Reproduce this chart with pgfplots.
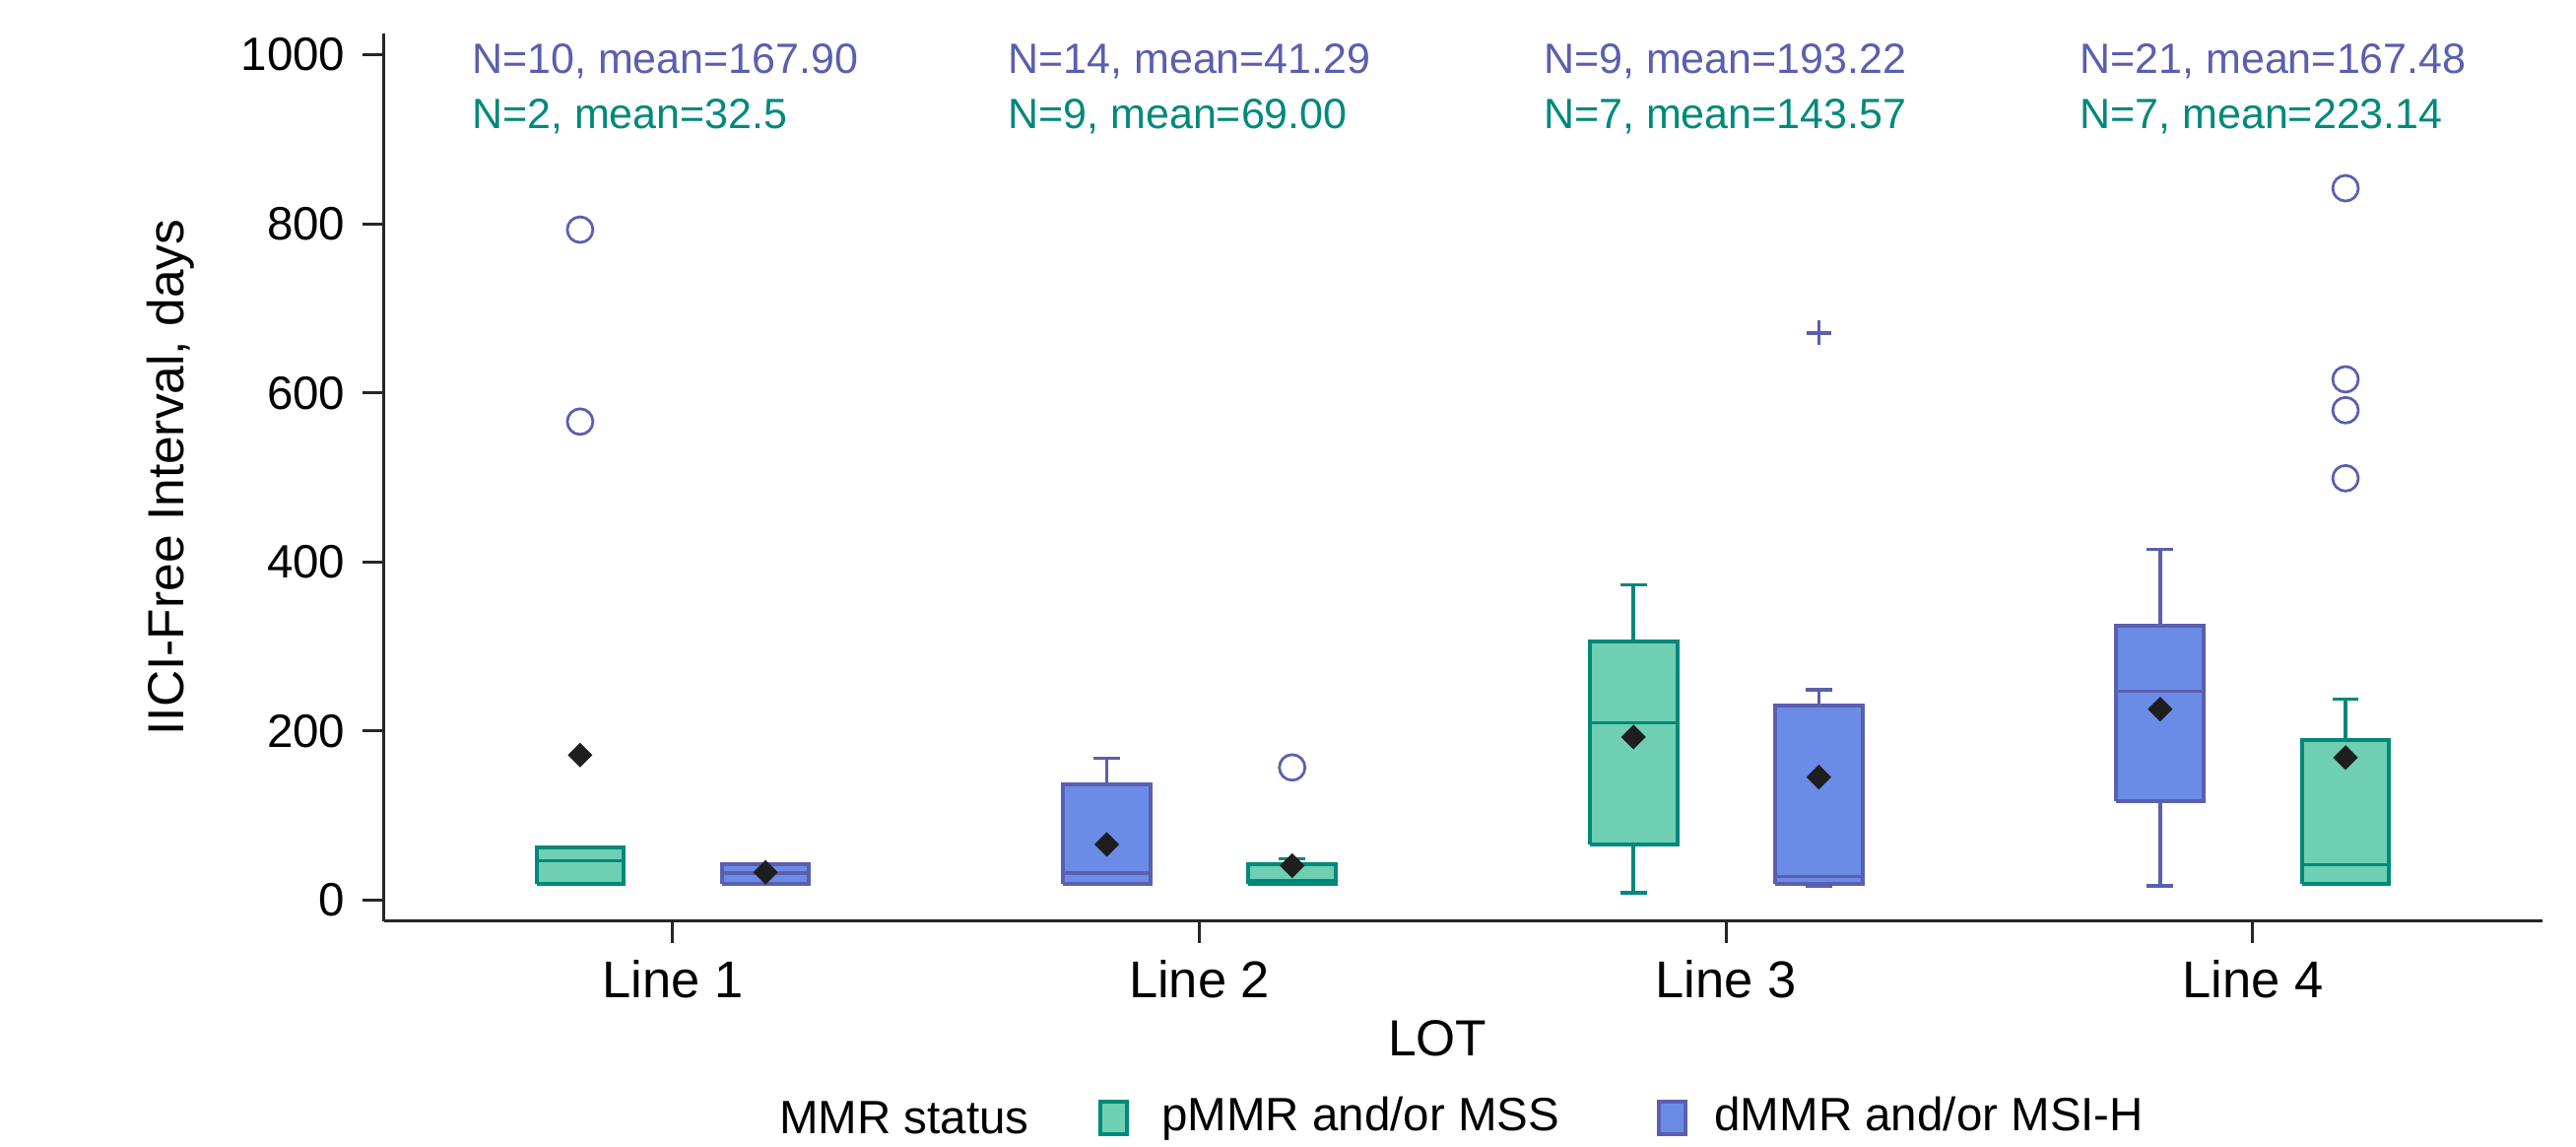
\documentclass[border=0pt]{standalone}
\usepackage{fontspec}
\setmainfont{Liberation Sans}
\usepackage{pgfplots}
\pgfplotsset{compat=1.18}
\definecolor{gfill}{HTML}{6FCFB3}
\definecolor{gedge}{HTML}{00897B}
\definecolor{bfill}{HTML}{6A8CE6}
\definecolor{bedge}{HTML}{5A5FAF}
\definecolor{axc}{HTML}{262626}
\definecolor{dk}{HTML}{1E1E1E}
\pgfplotsset{sqlegend/.style={legend image code/.code={\draw[##1] (0pt,-3.3pt) rectangle (5.4pt,3.3pt);}}}
\pgfdeclareplotmark{wdiamond}{%
  \pgfpathmoveto{\pgfqpoint{0pt}{\pgfplotmarksize}}%
  \pgfpathlineto{\pgfqpoint{\pgfplotmarksize}{0pt}}%
  \pgfpathlineto{\pgfqpoint{0pt}{-\pgfplotmarksize}}%
  \pgfpathlineto{\pgfqpoint{-\pgfplotmarksize}{0pt}}%
  \pgfpathclose\pgfusepathqfillstroke}
\begin{document}
\begin{tikzpicture}
\begin{axis}[
  at={(0,0)}, anchor=south west,
  scale only axis, width=438.2pt, height=180.2pt,
  xmin=0.452, xmax=4.55, ymin=-25, ymax=1025,
  axis x line*=bottom, axis y line*=left,
  axis line style={axc, line width=0.6pt},
  xtick={1,2,3,4}, xticklabels={Line 1,Line 2,Line 3,Line 4},
  ytick={0,200,400,600,800,1000},
  tick align=outside, major tick length=4.4pt,
  tick style={axc, line width=0.6pt},
  /pgf/number format/assume math mode=true,
  /pgf/number format/set thousands separator={},
  yticklabel style={font=\fontsize{9.5}{11}\selectfont},
  xticklabel style={font=\fontsize{10.5}{12}\selectfont},
  label style={font=\fontsize{10.3}{12}\selectfont},
  xlabel={LOT}, ylabel={IICI-Free Interval, days},
  xlabel style={at={(axis description cs:0.488,-0.132)}, anchor=center},
  ylabel style={at={(axis description cs:-0.099,0.5)}, anchor=center},
  clip=false,
  legend columns=-1,
  legend style={draw=none, fill=none, at={(axis description cs:0.3237,-0.221)}, anchor=west,
    font=\fontsize{9.5}{11}\selectfont},
]
% boxes (first two carry the legend)
\addplot[draw=gedge, fill=gfill, line width=0.8pt, sqlegend]
  coordinates {(0.741,19) (0.907,19) (0.907,62) (0.741,62) (0.741,19)};
\addlegendentry{\hspace*{4.6pt}pMMR and/or MSS\hspace*{17.7pt}}
\addplot[draw=bedge, fill=bfill, line width=0.8pt, sqlegend]
  coordinates {(1.093,19) (1.259,19) (1.259,43) (1.093,43) (1.093,19)};
\addlegendentry{\hspace*{3.6pt}dMMR and/or MSI-H}
\addplot[draw=bedge, fill=bfill, line width=0.8pt, forget plot]
  coordinates {(1.741,19) (1.907,19) (1.907,137.5) (1.741,137.5) (1.741,19)};
\addplot[draw=gedge, fill=gfill, line width=0.8pt, forget plot]
  coordinates {(2.093,19) (2.259,19) (2.259,42.3) (2.093,42.3) (2.093,19)};
\addplot[draw=gedge, fill=gfill, line width=0.8pt, forget plot]
  coordinates {(2.741,65.6) (2.907,65.6) (2.907,305.5) (2.741,305.5) (2.741,65.6)};
\addplot[draw=bedge, fill=bfill, line width=0.8pt, forget plot]
  coordinates {(3.093,19) (3.259,19) (3.259,230.6) (3.093,230.6) (3.093,19)};
\addplot[draw=bedge, fill=bfill, line width=0.8pt, forget plot]
  coordinates {(3.741,117) (3.907,117) (3.907,325) (3.741,325) (3.741,117)};
\addplot[draw=gedge, fill=gfill, line width=0.8pt, forget plot]
  coordinates {(4.093,19.5) (4.259,19.5) (4.259,189) (4.093,189) (4.093,19.5)};

% medians, whiskers and caps (green)
\addplot[gedge, line width=0.7pt, unbounded coords=jump, forget plot] coordinates {
  (0.741,46.6) (0.907,46.6) (nan,nan)
  (2.093,23) (2.259,23) (nan,nan)
  (2.176,42.3) (2.176,49) (nan,nan) (2.151,49) (2.201,49) (nan,nan)
  (2.741,209.7) (2.907,209.7) (nan,nan)
  (2.824,305.5) (2.824,373) (nan,nan) (2.799,373) (2.849,373) (nan,nan)
  (2.824,65.6) (2.824,8.5) (nan,nan) (2.799,8.5) (2.849,8.5) (nan,nan)
  (4.093,42) (4.259,42) (nan,nan)
  (4.176,189) (4.176,238) (nan,nan) (4.151,238) (4.201,238)
};
% medians, whiskers and caps (blue)
\addplot[bedge, line width=0.7pt, unbounded coords=jump, forget plot] coordinates {
  (1.093,32) (1.259,32) (nan,nan)
  (1.741,32) (1.907,32) (nan,nan)
  (1.824,137.5) (1.824,167.7) (nan,nan) (1.799,167.7) (1.849,167.7) (nan,nan)
  (3.093,28) (3.259,28) (nan,nan)
  (3.176,230.6) (3.176,249) (nan,nan) (3.151,249) (3.201,249) (nan,nan)
  (3.151,16.3) (3.201,16.3) (nan,nan)
  (3.741,247) (3.907,247) (nan,nan)
  (3.824,325) (3.824,415) (nan,nan) (3.799,415) (3.849,415) (nan,nan)
  (3.824,117) (3.824,16.8) (nan,nan) (3.799,16.8) (3.849,16.8)
};

% outliers
\addplot[only marks, mark=o, mark size=2.6pt, draw=bedge, line width=0.55pt, forget plot]
  coordinates {(0.824,793) (0.824,566) (2.176,157) (4.176,842) (4.176,616) (4.176,579.5) (4.176,499)};
\addplot[only marks, mark=+, mark size=2.5pt, draw=bedge, line width=0.7pt, forget plot]
  coordinates {(3.176,671)};
% means
\addplot[only marks, mark=wdiamond, mark size=2.3pt, draw=dk, fill=dk, line width=0.3pt, forget plot]
  coordinates {(0.824,171.6) (1.176,33) (1.824,66) (2.176,40.8) (2.824,193) (3.176,145.6) (3.824,226) (4.176,168.7)};

% annotations
\node[anchor=base west, inner sep=0pt, font=\fontsize{8.6}{10}\selectfont, text=bedge] at (axis cs:0.617,978) {N=10, mean=167.90};
\node[anchor=base west, inner sep=0pt, font=\fontsize{8.6}{10}\selectfont, text=gedge] at (axis cs:0.617,912) {N=2, mean=32.5};
\node[anchor=base west, inner sep=0pt, font=\fontsize{8.6}{10}\selectfont, text=bedge] at (axis cs:1.635,978) {N=14, mean=41.29};
\node[anchor=base west, inner sep=0pt, font=\fontsize{8.6}{10}\selectfont, text=gedge] at (axis cs:1.635,912) {N=9, mean=69.00};
\node[anchor=base west, inner sep=0pt, font=\fontsize{8.6}{10}\selectfont, text=bedge] at (axis cs:2.652,978) {N=9, mean=193.22};
\node[anchor=base west, inner sep=0pt, font=\fontsize{8.6}{10}\selectfont, text=gedge] at (axis cs:2.652,912) {N=7, mean=143.57};
\node[anchor=base west, inner sep=0pt, font=\fontsize{8.6}{10}\selectfont, text=bedge] at (axis cs:3.670,978) {N=21, mean=167.48};
\node[anchor=base west, inner sep=0pt, font=\fontsize{8.6}{10}\selectfont, text=gedge] at (axis cs:3.670,912) {N=7, mean=223.14};
\node[anchor=west, inner sep=0pt, font=\fontsize{9.5}{11}\selectfont] at (axis description cs:0.1826,-0.221) {MMR status};
\end{axis}
\pgfresetboundingbox
\useasboundingbox (-78pt,-45.8pt) rectangle (445pt,187pt);
\end{tikzpicture}
\end{document}
